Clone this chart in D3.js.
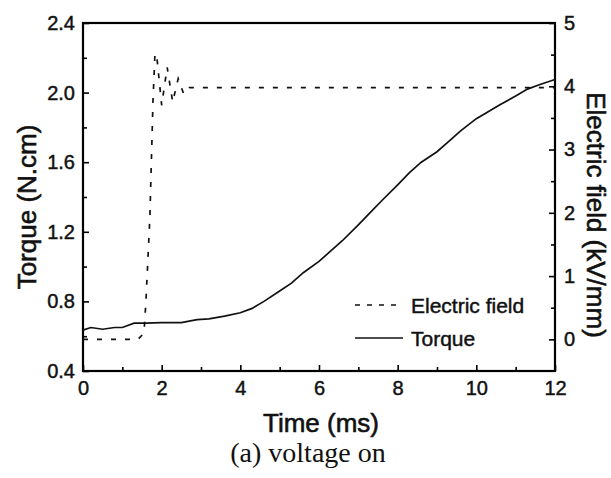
<!DOCTYPE html>
<html><head><meta charset="utf-8">
<script src="https://cdn.jsdelivr.net/npm/d3@7/dist/d3.min.js"></script>
<style>body{margin:0;background:#fff}svg{display:block}</style>
</head><body><svg id="c" width="611" height="478"></svg>
<script>
// ---- data ----
const torqueTime = [0,0.2,0.5,0.8,1.0,1.3,1.6,2.0,2.5,2.9,3.2,3.6,4.0,4.3,4.6,5.0,5.3,5.6,6.0,6.3,6.6,7.0,7.3,7.6,8.0,8.3,8.6,9.0,9.3,9.6,10.0,10.3,10.6,11.0,11.3,11.6,12.0];
const torqueValue = [0.635,0.65,0.64,0.65,0.65,0.675,0.675,0.678,0.678,0.695,0.70,0.715,0.735,0.76,0.80,0.86,0.905,0.965,1.03,1.09,1.15,1.24,1.31,1.38,1.47,1.54,1.60,1.66,1.72,1.78,1.85,1.89,1.93,1.98,2.02,2.045,2.075];
const fieldTime = [0,1.4,1.55,1.6,1.7,1.78,1.83,1.88,2.0,2.14,2.28,2.42,2.56,2.7,12];
const fieldValue = [0,0,0.1,0.6,1.93,3.78,4.52,4.45,3.7,4.3,3.75,4.12,3.88,3.98,3.98];
const xTicks = [0,2,4,6,8,10,12];
const xMinor = [1,3,5,7,9,11];
const yLeftTicks = [0.4,0.8,1.2,1.6,2.0,2.4];
const yLeftMinor = [0.6,1.0,1.4,1.8,2.2];
const yRightTicks = [0,1,2,3,4,5];
const yRightMinor = [0.5,1.5,2.5,3.5,4.5];
const legendLabels = ["Electric field","Torque"];

// ---- layout ----
const L=83,R=555,T=23,B=371;
const svg=d3.select("#c");
const x=d3.scaleLinear().domain([0,12]).range([L,R]);
const yL=d3.scaleLinear().domain([0.4,2.4]).range([B,T]);
const yR=d3.scaleLinear().domain([-0.5,5]).range([B,T]);
const font="'Liberation Sans', Arial, sans-serif";

function heavy(sel){ return sel.attr("stroke","#111").attr("stroke-width",0.45).attr("fill","#111"); }
function styleAxis(g,size){
  g.select(".domain").remove();
  g.selectAll(".tick line").attr("stroke","#000").attr("stroke-width",1.6);
  g.selectAll("text").attr("font-family",font).attr("font-size",size).call(heavy);
}
const fmtL=d3.format(".1f");
svg.append("g").attr("transform",`translate(0,${B})`)
  .call(d3.axisBottom(x).tickValues(xTicks).tickSize(-6).tickPadding(10).tickFormat(d3.format("d")))
  .call(g=>styleAxis(g,20));
svg.append("g").attr("transform",`translate(0,${B})`)
  .call(d3.axisBottom(x).tickValues(xMinor).tickSize(-4).tickFormat(""))
  .call(g=>styleAxis(g,20));
svg.append("g").attr("transform",`translate(${L},0)`)
  .call(d3.axisLeft(yL).tickValues(yLeftTicks).tickSize(-6).tickPadding(8).tickFormat(fmtL))
  .call(g=>styleAxis(g,20));
svg.append("g").attr("transform",`translate(${L},0)`)
  .call(d3.axisLeft(yL).tickValues(yLeftMinor).tickSize(-4).tickFormat(""))
  .call(g=>styleAxis(g,20));
svg.append("g").attr("transform",`translate(${R},0)`)
  .call(d3.axisRight(yR).tickValues(yRightTicks).tickSize(-6).tickPadding(9).tickFormat(d3.format("d")))
  .call(g=>styleAxis(g,20));
svg.append("g").attr("transform",`translate(${R},0)`)
  .call(d3.axisRight(yR).tickValues(yRightMinor).tickSize(-4).tickFormat(""))
  .call(g=>styleAxis(g,20));

// frame
svg.append("rect").attr("x",L).attr("y",T).attr("width",R-L).attr("height",B-T)
  .attr("fill","none").attr("stroke","#000").attr("stroke-width",2.2);

// lines
const torqueData=torqueTime.map((t,i)=>[t,torqueValue[i]]);
const fieldData=fieldTime.map((t,i)=>[t,fieldValue[i]]);
svg.append("path").datum(torqueData)
  .attr("d",d3.line().x(d=>x(d[0])).y(d=>yL(d[1])))
  .attr("fill","none").attr("stroke","#111").attr("stroke-width",1.7);
svg.append("path").datum(fieldData)
  .attr("d",d3.line().x(d=>x(d[0])).y(d=>yR(d[1])))
  .attr("fill","none").attr("stroke","#111").attr("stroke-width",1.7).attr("stroke-dasharray","5,9");

// legend
const lg=svg.append("g");
lg.append("line").attr("x1",355).attr("x2",403).attr("y1",305).attr("y2",305)
  .attr("stroke","#111").attr("stroke-width",1.6).attr("stroke-dasharray","5,7");
lg.append("line").attr("x1",355).attr("x2",403).attr("y1",338).attr("y2",338)
  .attr("stroke","#111").attr("stroke-width",1.6);
lg.selectAll("text").data(legendLabels).join("text")
  .attr("x",411).attr("y",(d,i)=>[313,346][i]).text(d=>d)
  .attr("font-family",font).attr("font-size",21).call(heavy);

// titles
svg.append("text").attr("x",321).attr("y",432).attr("text-anchor","middle")
  .attr("font-family",font).attr("font-size",26).call(heavy).attr("stroke-width",0.6).text("Time (ms)");
svg.append("text").attr("transform","translate(36,207) rotate(-90)").attr("text-anchor","middle")
  .attr("font-family",font).attr("font-size",26).call(heavy).attr("stroke-width",0.6).text("Torque (N.cm)");
svg.append("text").attr("transform","translate(587,215) rotate(90)").attr("text-anchor","middle")
  .attr("font-family",font).attr("font-size",26).call(heavy).attr("stroke-width",0.6).text("Electric field (kV/mm)");
svg.append("text").attr("x",308).attr("y",462).attr("text-anchor","middle")
  .attr("font-family","'Liberation Serif','Times New Roman',serif").attr("font-size",28).attr("fill","#111").text("(a) voltage on");
</script></body></html>
